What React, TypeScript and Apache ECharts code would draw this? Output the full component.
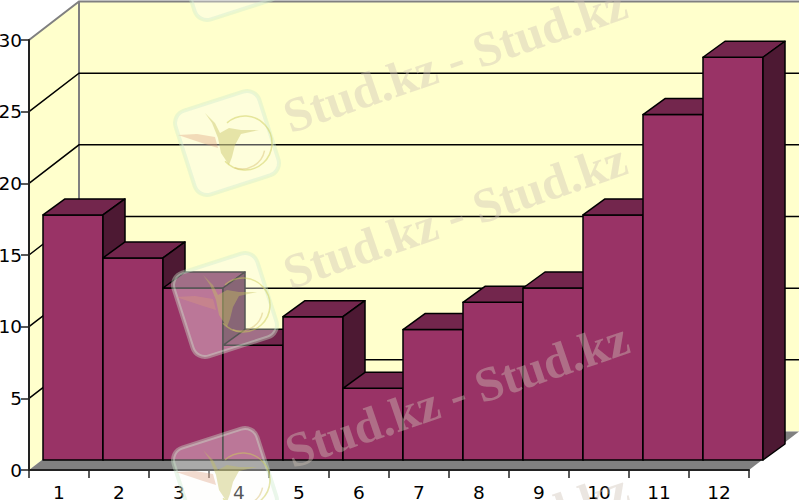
import React, { useEffect, useRef } from "react";
import * as echarts from "echarts";

const categories = ["1", "2", "3", "4", "5", "6", "7", "8", "9", "10", "11", "12"];
const values = [17.1, 14.1, 12, 8, 10, 5, 9.1, 11, 12, 17.1, 24.1, 28.1];
const gridTicks = [5, 10, 15, 20, 25];
const watermarkRows = [
  { x: 293, y: 141 },
  { x: 293, y: 297 },
  { x: 295, y: 476 },
  { x: 295, y: 627 },
];
const logoCenters = [
  { x: 227, y: -32 },
  { x: 227, y: 143 },
  { x: 225, y: 305 },
  { x: 225, y: 480 },
];

const DX = 50;
const DY = -38.5;
const BAR_DX = 14;
const BAR_DY = -10;
const BAR_DEPTH_X = 22;
const BAR_DEPTH_Y = -16;

function logo(c: { x: number; y: number }) {
  const Z = 50;
  return {
    type: "group",
    x: c.x,
    y: c.y,
    children: [
      {
        type: "rect",
        z: Z,
        rotation: 0.31,
        shape: { x: -44, y: -44, width: 88, height: 88, r: 13 },
        style: { fill: "rgba(253,253,250,0.34)", stroke: "rgba(205,235,205,0.4)", lineWidth: 4 },
      },
      {
        type: "polygon",
        z: Z,
        shape: { points: [[-49, -8], [-30, -9], [-12, -6], [-9, 5], [-22, 1]] },
        style: { fill: "rgba(222,155,120,0.35)" },
      },
      {
        type: "polygon",
        z: Z,
        shape: {
          points: [[-22, -30], [-12, -20], [-7, -10], [2, -15], [14, -13], [32, -13], [14, -9], [8, 2], [5, 14], [2, 22], [-6, 10], [-9, -5], [-15, -20]],
        },
        style: { fill: "rgba(197,192,95,0.42)" },
      },
      {
        type: "arc",
        z: Z,
        shape: { cx: 18, cy: 0, r: 27, startAngle: -2.3, endAngle: 2.4, clockwise: true },
        style: { fill: "none", stroke: "rgba(205,205,90,0.5)", lineWidth: 1.5 },
      },
      {
        type: "arc",
        z: Z,
        shape: { cx: 15, cy: 3, r: 23, startAngle: 0.2, endAngle: 1.9, clockwise: true },
        style: { fill: "none", stroke: "rgba(215,190,110,0.45)", lineWidth: 1.5 },
      },
    ],
  };
}

function renderWall(params: any, api: any) {
  const cs = params.coordSys;
  const l = cs.x;
  const r = cs.x + cs.width;
  const t = api.coord([0, 30])[1];
  const b = api.coord([0, 0])[1];
  return {
    type: "group",
    children: [
      {
        type: "polygon",
        shape: { points: [[l, t], [l + DX, t + DY], [r + DX, t + DY], [r + DX, b + DY], [l + DX, b + DY], [l, b]] },
        style: { fill: "#ffffcc", stroke: "none" },
      },
      {
        type: "polygon",
        shape: { points: [[l, b], [l + DX, b + DY], [r + DX, b + DY], [r, b]] },
        style: { fill: "#808080", stroke: "none" },
      },
      {
        type: "polyline",
        shape: { points: [[l, t], [l + DX, t + DY], [r + DX, t + DY]] },
        style: { fill: "none", stroke: "#808080", lineWidth: 2 },
      },
      {
        type: "line",
        shape: { x1: l + DX, y1: t + DY, x2: l + DX, y2: b + DY },
        style: { stroke: "#808080", lineWidth: 2 },
      },
    ],
  };
}

function renderGridLine(params: any, api: any) {
  const cs = params.coordSys;
  const l = cs.x;
  const r = cs.x + cs.width;
  const y = api.coord([0, api.value(1)])[1];
  return {
    type: "polyline",
    shape: { points: [[l, y], [l + DX, y + DY], [r + DX, y + DY]] },
    style: { fill: "none", stroke: "#000", lineWidth: 1.5 },
  };
}

function renderBar(params: any, api: any) {
  const p = api.coord([api.value(0), api.value(1)]);
  const base = api.coord([api.value(0), 0])[1] + BAR_DY;
  const w = api.size([1, 0])[0];
  const x0 = p[0] - w / 2 + BAR_DX;
  const x1 = x0 + w;
  const top = p[1] + BAR_DY;
  const border = { stroke: "#000", lineWidth: 1.5, lineJoin: "round" };
  return {
    type: "group",
    children: [
      {
        type: "polygon",
        shape: { points: [[x0, base], [x1, base], [x1, top], [x0, top]] },
        style: { fill: "#993366", ...border },
      },
      {
        type: "polygon",
        shape: { points: [[x0, top], [x1, top], [x1 + BAR_DEPTH_X, top + BAR_DEPTH_Y], [x0 + BAR_DEPTH_X, top + BAR_DEPTH_Y]] },
        style: { fill: "#73264d", ...border },
      },
      {
        type: "polygon",
        shape: { points: [[x1, base], [x1 + BAR_DEPTH_X, base + BAR_DEPTH_Y], [x1 + BAR_DEPTH_X, top + BAR_DEPTH_Y], [x1, top]] },
        style: { fill: "#4d1933", ...border },
      },
    ],
  };
}

export default function App() {
  const ref = useRef<HTMLDivElement>(null);
  useEffect(() => {
    const chart = echarts.init(ref.current!, undefined, { renderer: "svg" });
    const axisLabel = { color: "#000", fontFamily: "DejaVu Sans", fontSize: 18.5 };
    const axisLine = { show: true, lineStyle: { color: "#222", width: 2 } };
    const axisTick = { show: true, length: 8, lineStyle: { color: "#222", width: 1.5 } };
    chart.setOption({
      animation: false,
      backgroundColor: "#fff",
      grid: { left: 29, top: 40, width: 720, height: 430, containLabel: false, outerBoundsMode: "none" },
      xAxis: {
        type: "category",
        data: categories,
        z: 5,
        axisLine,
        axisTick: { ...axisTick, alignWithLabel: false },
        axisLabel: { ...axisLabel, margin: 13 },
        splitLine: { show: false },
      },
      yAxis: {
        type: "value",
        min: 0,
        max: 30,
        interval: 5,
        z: 5,
        axisLine,
        axisTick,
        axisLabel: { ...axisLabel, margin: 7 },
        splitLine: { show: false },
      },
      series: [
        { type: "custom", silent: true, z: 1, clip: false, renderItem: renderWall, encode: { x: 0, y: 1 }, data: [[0, 0]] },
        { type: "custom", silent: true, z: 2, clip: false, renderItem: renderGridLine, encode: { x: 0, y: 1 }, data: gridTicks.map((v) => [0, v]) },
        { type: "custom", silent: true, z: 3, clip: false, renderItem: renderBar, encode: { x: 0, y: 1 }, data: values.map((v, i) => [i, v]) },
      ],
      graphic: [
        ...logoCenters.map((c) => logo(c)),
        ...watermarkRows.map((r) => ({
          type: "text",
          x: r.x,
          y: r.y,
          rotation: 0.33,
          z: 50,
          style: {
            text: "Stud.kz - Stud.kz",
            font: "bold 49px 'Liberation Serif'",
            fill: "rgba(207,195,183,0.41)",
            textAlign: "left",
            textVerticalAlign: "bottom",
          },
        })),
      ],
    });
    return () => chart.dispose();
  }, []);
  return <div ref={ref} style={{ position: "fixed", left: 0, top: 0, width: 800, height: 500 }} />;
}
